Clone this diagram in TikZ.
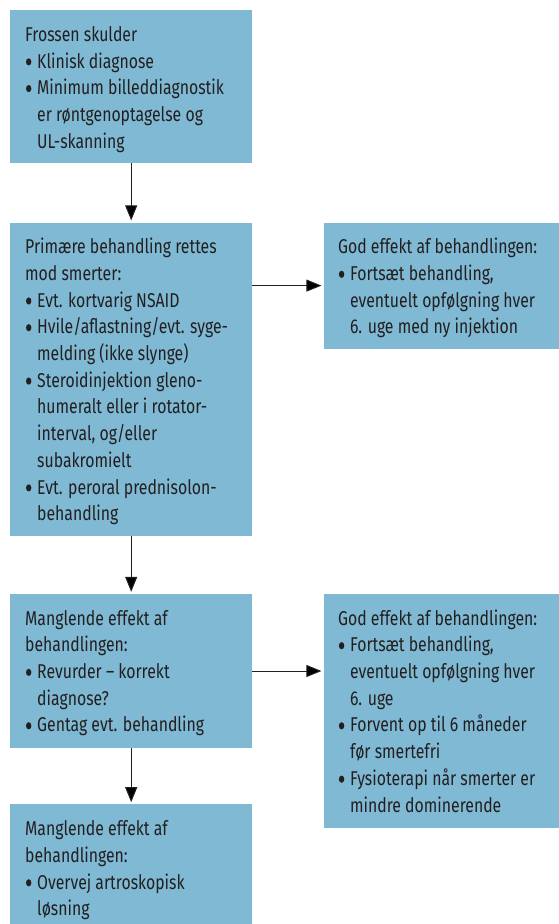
\documentclass[tikz,border=0pt]{standalone}
\usepackage{fontspec}
\usetikzlibrary{positioning, arrows.meta}
\newfontfamily\boxfont[FakeStretch=0.79]{Fira Sans}
\definecolor{boxblue}{HTML}{7FB9D4}
\definecolor{inkgray}{HTML}{231F20}
\newcommand{\itm}{\par\hangindent=12pt\hangafter=1\makebox[12pt][l]{\hspace{0.8pt}\tikz[baseline=-6.2pt]\fill[inkgray] (0,0) ellipse (2.7pt and 3.6pt);}}
\newcommand{\boxtext}[3]{\parbox[t][#2][t]{#1}{\raggedright\vspace*{12.5pt}\strut #3}}

\begin{document}
\begin{tikzpicture}[
    box/.style={fill=boxblue, anchor=north west, inner xsep=15pt, inner ysep=0pt,
      text=inkgray, font=\boxfont\fontsize{20pt}{26.7pt}\selectfont},
    arr/.style={draw=inkgray, line width=1pt, -{Triangle[width=12pt,length=15pt]}, shorten >=2pt}
  ]
			\useasboundingbox (0,0) rectangle (558pt,-924pt);

			% Nodes
			\node (n1) [box] at (10pt,-10pt) {\boxtext{212pt}{153pt}{Frossen skulder
				\itm Klinisk diagnose
				\itm Minimum billeddiagnostik\newline er røntgenoptagelse og\newline UL-skanning}};
			\node (n2) [box, below=59pt of n1] {\boxtext{212pt}{313pt}{Primære behandling rettes\newline mod smerter:
				\itm Evt. kortvarig NSAID
				\itm Hvile/aflastning/evt. syge-\newline melding (ikke slynge)
				\itm Steroidinjektion gleno-\newline humeralt eller i rotator-\newline interval, og/eller\newline subakromielt
				\itm Evt. peroral prednisolon-\newline behandling}};
			\node (n3) [box, inner xsep=14.5pt, right=71pt of n2.north east, anchor=north west] {\boxtext{206pt}{126pt}{God effekt af behandlingen:
				\itm Fortsæt behandling,\newline eventuelt opfølgning hver\newline 6. uge med ny injektion}};
			\node (n4) [box, below=58pt of n2] {\boxtext{212pt}{154pt}{Manglende effekt af\newline behandlingen:
				\itm Revurder – korrekt\newline diagnose?
				\itm Gentag evt. behandling}};
			\node (n5) [box, inner xsep=14.5pt, right=71pt of n4.north east, anchor=north west] {\boxtext{206pt}{234pt}{God effekt af behandlingen:
				\itm Fortsæt behandling,\newline eventuelt opfølgning hver\newline 6. uge
				\itm Forvent op til 6 måneder\newline før smertefri
				\itm Fysioterapi når smerter er\newline mindre dominerende}};
			\node (n6) [box, below=56pt of n4] {\boxtext{212pt}{121pt}{Manglende effekt af\newline behandlingen:
				\itm Overvej artroskopisk\newline løsning}};

			% Edges
			\draw[arr] (n1) -- (n2);
			\draw[arr] (n2.east |- n3.west) -- (n3.west);
			\draw[arr] (n2) -- (n4);
			\draw[arr] (n4.east) -- (n4.east -| n5.west);
			\draw[arr] (n4) -- (n6);

\end{tikzpicture}
\end{document}
